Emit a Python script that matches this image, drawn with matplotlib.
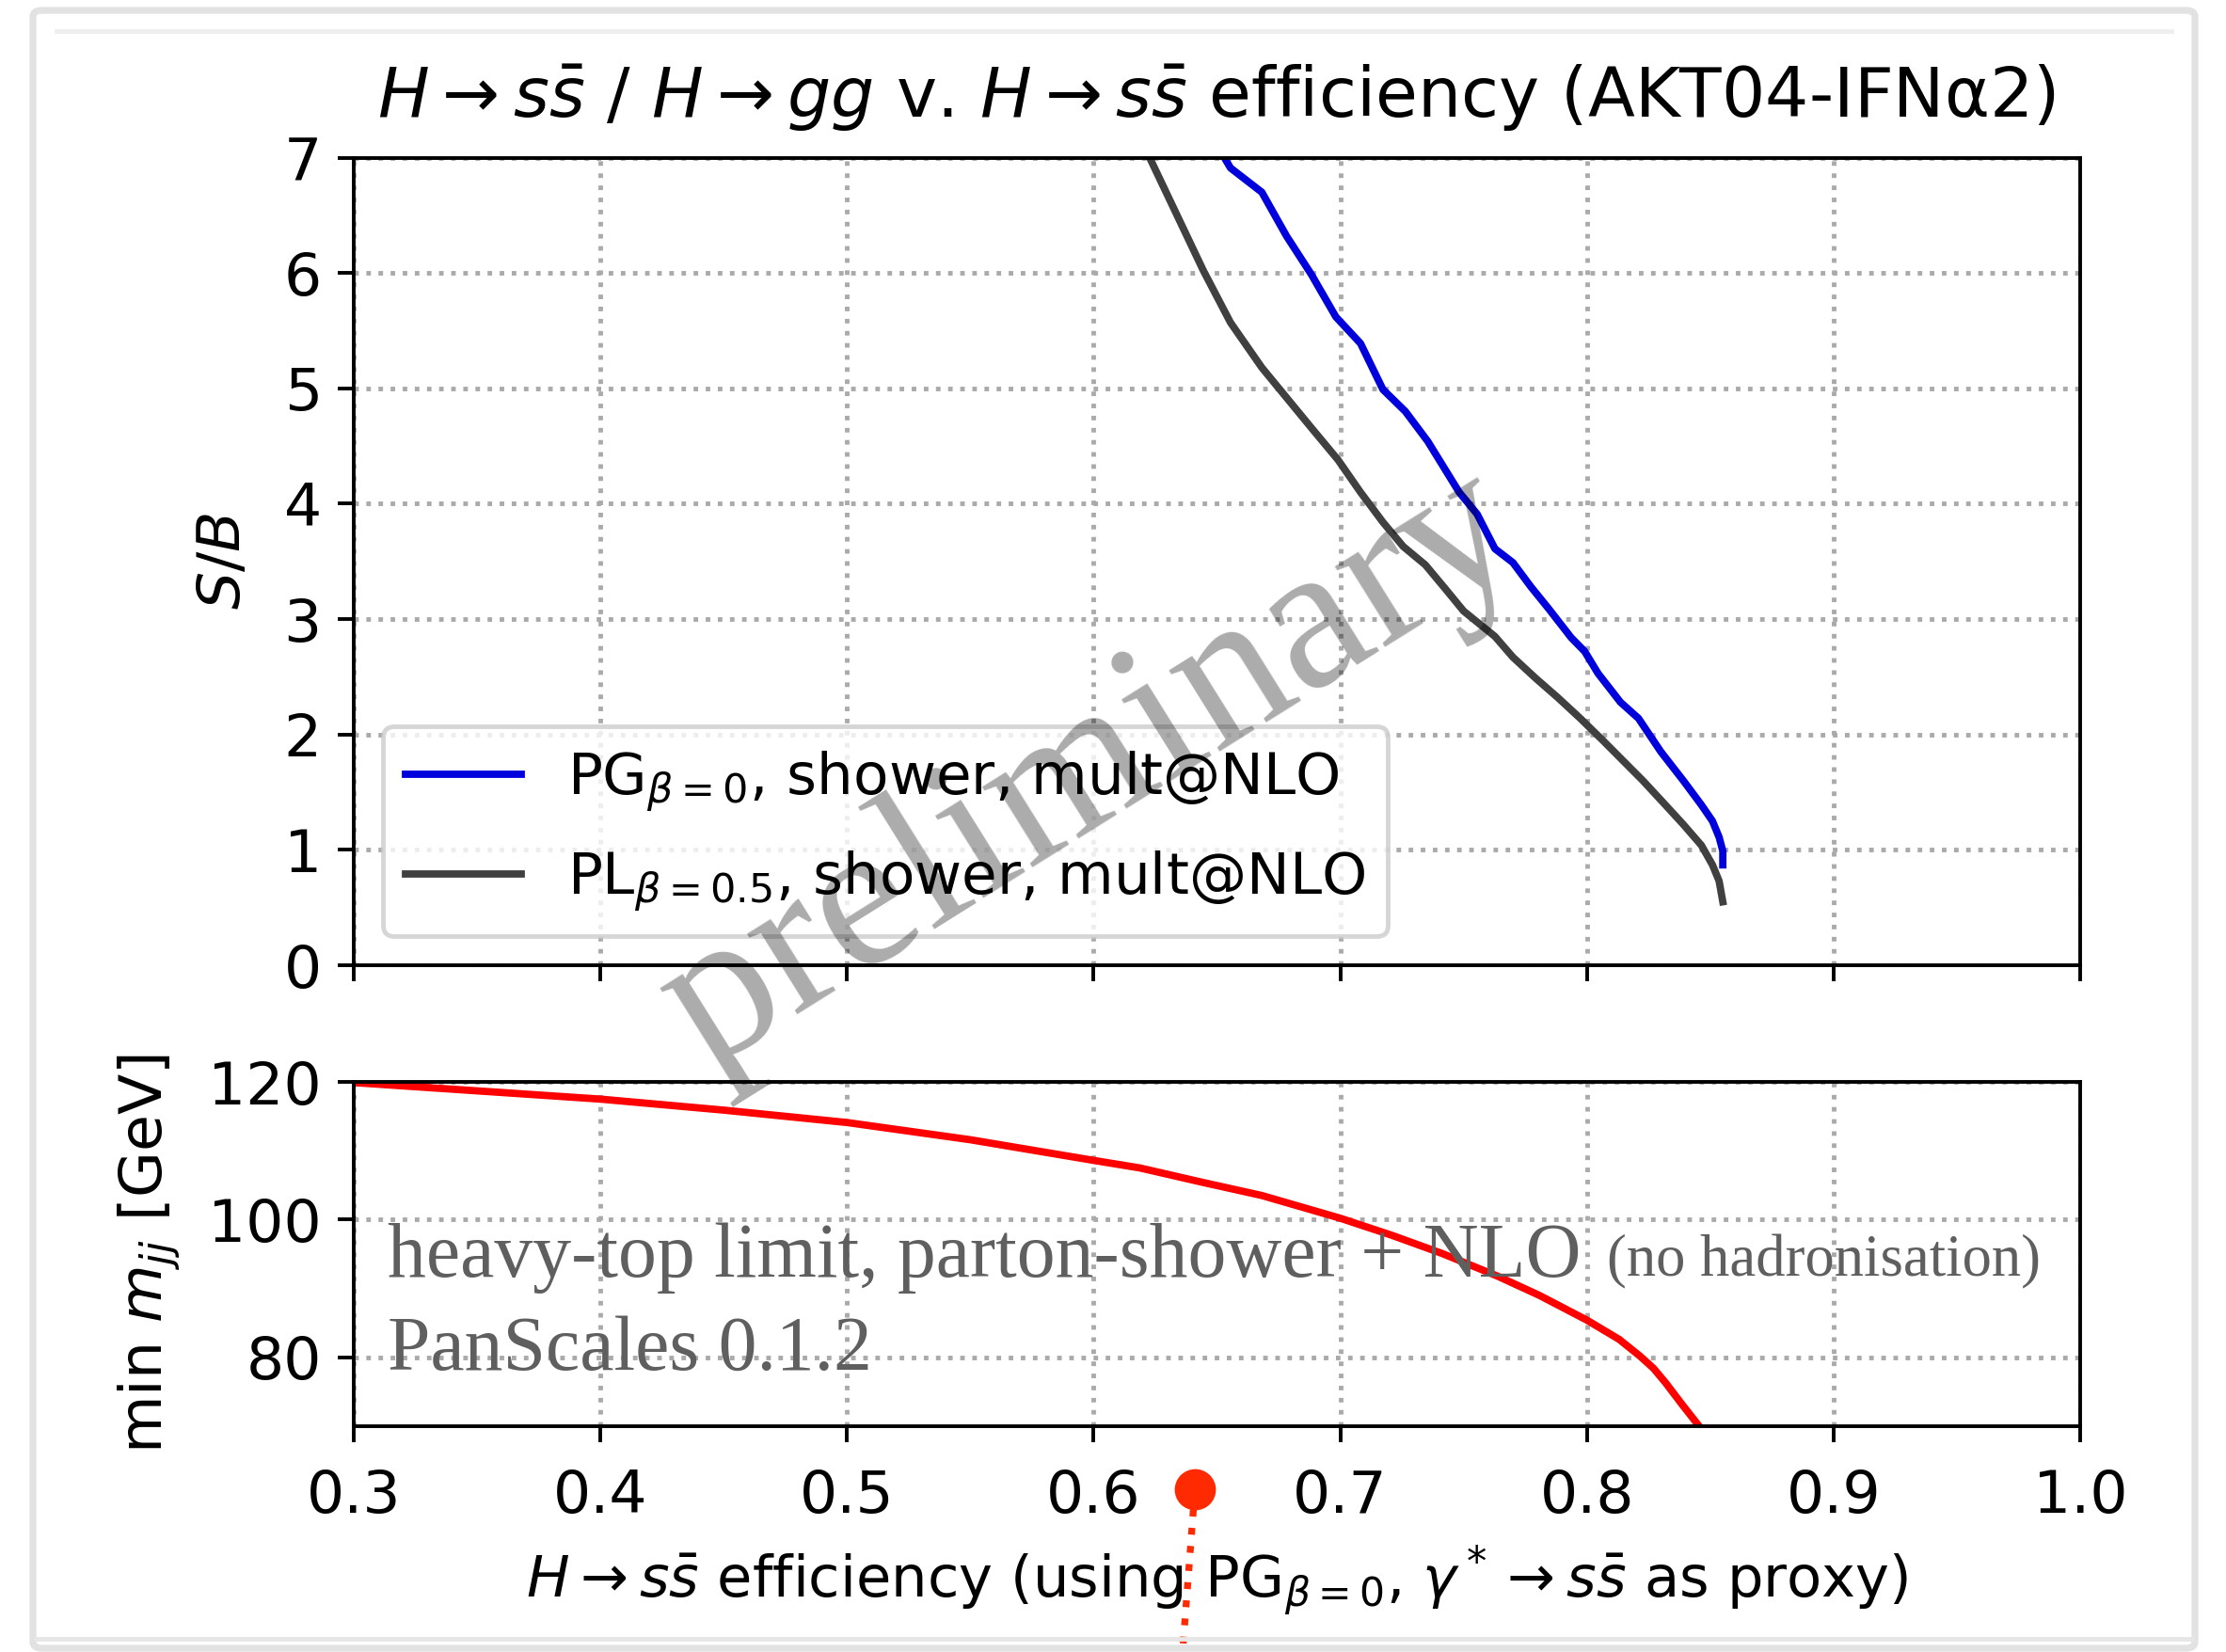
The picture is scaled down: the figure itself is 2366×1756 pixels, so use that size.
import numpy as np
import matplotlib.pyplot as plt
from matplotlib.patches import FancyBboxPatch
from matplotlib.lines import Line2D

# S/B vs H->ss efficiency, PG beta=0
pg_eff = [0.6530, 0.6555, 0.6682, 0.6782, 0.6882, 0.6982, 0.7082, 0.7173, 0.7264,
          0.7355, 0.7482, 0.7555, 0.7627, 0.7700, 0.7773, 0.7845, 0.7936, 0.7991,
          0.8045, 0.8136, 0.8209, 0.8300, 0.8391, 0.8464, 0.8509, 0.8536, 0.8551, 0.8551]
pg_sb = [7.00, 6.91, 6.70, 6.32, 5.99, 5.62, 5.39, 4.99, 4.80,
         4.54, 4.10, 3.91, 3.61, 3.49, 3.28, 3.09, 2.84, 2.72,
         2.53, 2.28, 2.14, 1.85, 1.60, 1.39, 1.25, 1.11, 0.99, 0.87]

# PL beta=0.5
pl_eff = [0.6227, 0.6336, 0.6445, 0.6555, 0.6682, 0.6782, 0.6882, 0.6991, 0.7082,
          0.7173, 0.7255, 0.7345, 0.7427, 0.7500, 0.7627, 0.7700, 0.7791, 0.7882,
          0.7973, 0.8064, 0.8227, 0.8318, 0.8391, 0.8464, 0.8509, 0.8536, 0.8551]
pl_sb = [7.00, 6.51, 6.02, 5.57, 5.18, 4.92, 4.66, 4.38, 4.10,
         3.84, 3.63, 3.47, 3.26, 3.07, 2.85, 2.67, 2.49, 2.32,
         2.14, 1.95, 1.60, 1.39, 1.22, 1.04, 0.87, 0.73, 0.55]

# min m_jj cut vs efficiency
mjj_eff = [0.3, 0.35, 0.4, 0.45, 0.5, 0.55, 0.6, 0.6188, 0.6443, 0.6682, 0.7,
           0.7211, 0.7415, 0.7637, 0.7807, 0.8, 0.8131, 0.8216, 0.8270, 0.8319,
           0.8387, 0.8455]
mjj_min = [119.9, 118.7, 117.5, 115.9, 114.1, 111.6, 108.6, 107.5, 105.4, 103.5, 100.2,
           97.7, 95.05, 91.8, 89.0, 85.4, 82.6, 80.15, 78.4, 76.3,
           73.1, 70.0]

pointer_x = 0.641

plt.rcParams['font.size'] = 13

fig = plt.figure(figsize=(2366/350, 1756/350), dpi=350)
ax1 = fig.add_axes([0.1589, 0.4157, 0.9345-0.1589, 0.9046-0.4157])
ax2 = fig.add_axes([0.1589, 0.1367, 0.9345-0.1589, 0.3451-0.1367], sharex=ax1)

# slide frame
fig.patches.append(FancyBboxPatch((35/2366, 1-1752/1756), (2333-35)/2366, (1752-11)/1756,
                                  boxstyle='round,pad=0,rounding_size=0.004',
                                  transform=fig.transFigure, fill=False,
                                  edgecolor='#e2e2e2', lw=1.5))
fig.lines.append(Line2D([60/2366, 2308/2366], [1-33/1756, 1-33/1756],
                        transform=fig.transFigure, color='#eeeeee', lw=1))
fig.lines.append(Line2D([38/2366, 2330/2366], [1-1742/1756, 1-1742/1756],
                        transform=fig.transFigure, color='#e6e6e6', lw=1))

ax1.plot(pg_eff, pg_sb, color='#0000dd', lw=1.6, label=r'PG$_{\beta=0}$, shower, mult@NLO')
ax1.plot(pl_eff, pl_sb, color='#404040', lw=1.6, label=r'PL$_{\beta=0.5}$, shower, mult@NLO')
ax1.set_xlim(0.3, 1.0)
ax1.set_ylim(0, 7)
ax1.set_yticks(range(8))
ax1.set_ylabel(r'$S/B$', labelpad=7)
ax1.grid(True, linestyle=':', color='#aaaaaa', lw=1)
ax1.tick_params(labelbottom=False)
ax1.legend(loc='lower left', fontsize=12.6, labelspacing=0.6)
ax1.set_title(r'$H\to s\bar{s}$ / $H\to gg$ v. $H\to s\bar{s}$ efficiency (AKT04-IFN$\mathrm{\alpha}$2)',
              fontsize=15, pad=9)

ax2.plot(mjj_eff, mjj_min, color='red', lw=1.6)
ax2.set_ylim(70, 120)
ax2.set_yticks([80, 100, 120])
ax2.set_ylabel(r'min $m_{jj}$ [GeV]', labelpad=5.5)
ax2.set_xlabel(r'$H\to s\bar{s}$ efficiency (using PG$_{\beta=0}$, $\gamma^*\to s\bar{s}$ as proxy)',
               fontsize=12.5)
ax2.tick_params(axis='x', pad=5.7)
ax2.grid(True, linestyle=':', color='#aaaaaa', lw=1)

ax2.text(0.0196, 0.435, 'heavy-top limit, parton-shower + NLO', transform=ax2.transAxes,
         family='Liberation Serif', fontsize=16.8, color='#5f5f5f', va='baseline')
ax2.text(0.726, 0.435, '(no hadronisation)', transform=ax2.transAxes,
         family='Liberation Serif', fontsize=12.9, color='#5f5f5f', va='baseline')
ax2.text(0.0196, 0.165, 'PanScales 0.1.2', transform=ax2.transAxes,
         family='Liberation Serif', fontsize=16.8, color='#5f5f5f', va='baseline')

fig.text(0.490, 0.534, 'preliminary', rotation=32, ha='center', va='center',
         family='Liberation Serif', fontsize=45.5, color='black', alpha=0.33, zorder=10)

# laser pointer mark
tr = ax2.get_xaxis_transform()
ax2.plot([pointer_x, 0.636], [-0.19, -0.66], transform=tr, color='#ff2a00',
         ls=':', lw=1.5, clip_on=False)
ax2.plot([pointer_x], [-0.183], 'o', transform=tr, color='#ff2a00', ms=8,
         clip_on=False)

fig.savefig('out.png', dpi=350)
